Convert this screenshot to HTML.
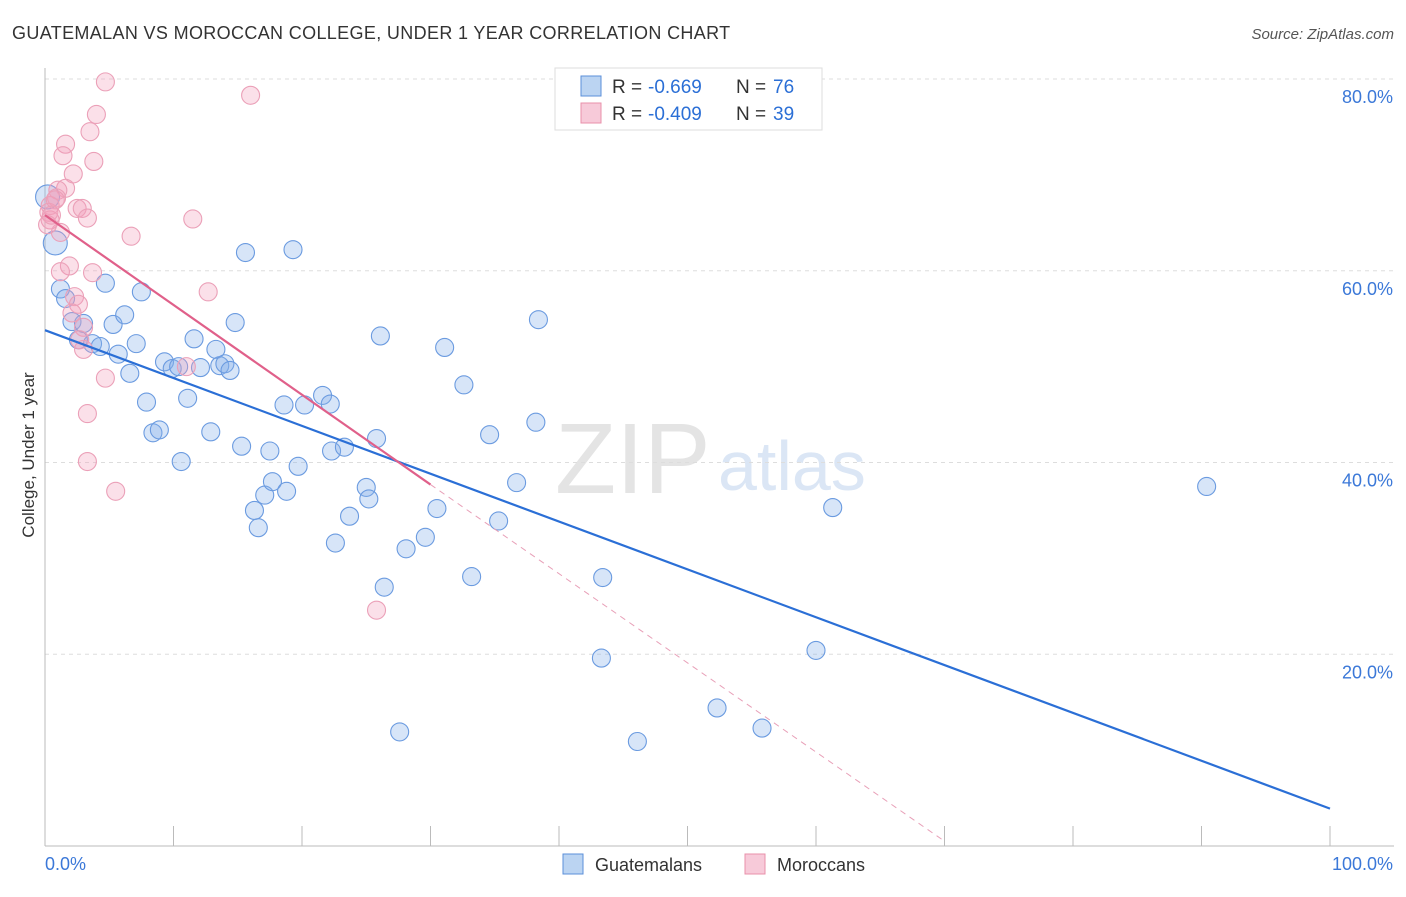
<!DOCTYPE html>
<html><head><meta charset="utf-8"><style>
body{margin:0;background:#fff;font-family:"Liberation Sans",sans-serif;}
svg text{font-family:"Liberation Sans",sans-serif;}
</style></head><body>
<svg id="c" width="1406" height="892">
<text x="12" y="39" font-size="18" fill="#333" letter-spacing="0.35">GUATEMALAN VS MOROCCAN COLLEGE, UNDER 1 YEAR CORRELATION CHART</text>
<text x="1394" y="39" font-size="15" fill="#555" text-anchor="end" font-style="italic">Source: ZipAtlas.com</text>
<text x="34" y="455" font-size="17" fill="#333" text-anchor="middle" transform="rotate(-90 34 455)">College, Under 1 year</text>
<text x="555" y="493" font-size="100" fill="#e4e4e4" font-family="Liberation Serif">ZIP</text>
<text x="718" y="490" font-size="70" fill="#dbe6f5">atlas</text>
<g id="grid"></g><g id="pts"></g><g id="lines"></g>
<g>
<rect x="555" y="68" width="267" height="62" fill="#fff" stroke="#ddd"/>
<rect x="581" y="76" width="20" height="20" fill="rgba(120,170,230,0.5)" stroke="#5b8fd9"/>
<text x="612" y="93" font-size="19" fill="#333">R =</text><text x="648" y="93" font-size="19" fill="#2b6fd6">-0.669</text>
<text x="736" y="93" font-size="19" fill="#333">N =</text><text x="773" y="93" font-size="19" fill="#2b6fd6">76</text>
<rect x="581" y="103" width="20" height="20" fill="rgba(240,150,180,0.5)" stroke="#e890aa"/>
<text x="612" y="120" font-size="19" fill="#333">R =</text><text x="648" y="120" font-size="19" fill="#2b6fd6">-0.409</text>
<text x="736" y="120" font-size="19" fill="#333">N =</text><text x="773" y="120" font-size="19" fill="#2b6fd6">39</text>
</g>
<g>
<rect x="563" y="854" width="20" height="20" fill="rgba(120,170,230,0.5)" stroke="#5b8fd9"/>
<text x="595" y="871" font-size="18" fill="#333">Guatemalans</text>
<rect x="745" y="854" width="20" height="20" fill="rgba(240,150,180,0.5)" stroke="#e890aa"/>
<text x="777" y="871" font-size="18" fill="#333">Moroccans</text>
</g>
</svg>
<script>
const yTicks=[20,40,60,80];
const xTickLabels=["0.0%","100.0%"];
const blueX=[0.2,0.8,1.2,1.6,2.1,3.0,2.6,3.7,4.3,4.7,5.3,5.7,6.2,6.6,7.1,7.5,7.9,8.4,8.9,9.3,9.9,10.4,10.6,11.1,11.6,12.1,12.9,13.3,13.6,14.0,14.4,14.8,15.3,15.6,16.3,16.6,17.1,17.5,17.7,18.6,18.8,19.3,19.7,20.2,21.6,22.2,22.3,22.6,23.3,23.7,25.0,25.2,25.8,26.1,26.4,27.6,28.1,29.6,30.5,31.1,32.6,33.2,34.6,35.3,36.7,38.2,38.4,43.3,43.4,46.1,52.3,55.8,60.0,61.3,90.4];
const blueY=[67.7,62.9,58.1,57.1,54.7,54.5,52.8,52.4,52.1,58.7,54.4,51.3,55.4,49.3,52.4,57.8,46.3,43.1,43.4,50.5,49.8,50.0,40.1,46.7,52.9,49.9,43.2,51.8,50.1,50.3,49.6,54.6,41.7,61.9,35.0,33.2,36.6,41.2,38.0,46.0,37.0,62.2,39.6,46.0,47.0,46.1,41.2,31.6,41.6,34.4,37.4,36.2,42.5,53.2,27.0,11.9,31.0,32.2,35.2,52.0,48.1,28.1,42.9,33.9,37.9,44.2,54.9,19.6,28.0,10.9,14.4,12.3,20.4,35.3,37.5];
const pinkX=[4.7,16.0,4.0,3.5,1.6,1.4,3.8,2.2,1.6,1.0,0.9,0.4,2.5,2.9,3.3,11.5,6.7,1.2,0.4,0.3,1.9,1.2,3.7,12.7,2.3,2.6,2.1,3.0,2.7,3.0,11.0,4.7,3.3,3.3,5.5,25.8,0.2,0.8,0.5];
const pinkY=[79.7,78.3,76.3,74.5,73.2,72.0,71.4,70.1,68.6,68.4,67.6,66.8,66.5,66.5,65.5,65.4,63.6,64.0,65.3,66.1,60.5,59.9,59.8,57.8,57.3,56.5,55.6,54.1,52.8,51.8,50.0,48.8,45.1,40.1,37.0,24.6,64.8,67.4,65.8];
const blueTrend=[[0,53.8],[100,3.9]];
const pinkTrend=[[0,65.8],[30,37.7]];
const pinkDash=[[30,37.7],[70,0.5]];
const X=v=>45+v*12.85, Y=v=>846-v*9.5875;
const NS="http://www.w3.org/2000/svg";
function mk(t,a,p){const e=document.createElementNS(NS,t);for(const k in a)e.setAttribute(k,a[k]);p.appendChild(e);return e;}
const g=document.getElementById('grid');
for(const t of yTicks){
 const l=mk('line',{x1:45,x2:1394,y1:Y(t),y2:Y(t),stroke:'#ddd','stroke-dasharray':'4,4'},g);
 
 
 const tx=mk('text',{x:1393,y:Y(t)+24,'font-size':18,fill:'#3b78d8','text-anchor':'end'},g);tx.textContent=t.toFixed(1)+'%';
 
 
}
mk('line',{x1:45,x2:45,y1:68,y2:846,stroke:'#bbb'},g);
mk('line',{x1:45,x2:1394,y1:846,y2:846,stroke:'#bbb'},g);
for(let i=1;i<=10;i++){mk('line',{x1:45+i*128.5,x2:45+i*128.5,y1:826,y2:846,stroke:'#bbb'},g);}
const t0=mk('text',{x:45,y:870,'font-size':18,fill:'#3b78d8'},g);t0.textContent=xTickLabels[0];


const t1=mk('text',{x:1393,y:870,'font-size':18,fill:'#3b78d8','text-anchor':'end'},g);t1.textContent=xTickLabels[1];


const p=document.getElementById('pts');
blueX.forEach((x,i)=>{const c=mk('circle',{cx:X(x),cy:Y(blueY[i]),r:i<2?12:9,fill:'rgba(130,175,232,0.32)',stroke:'#6b9be0','stroke-width':1.1},p);
 
 });
pinkX.forEach((x,i)=>{const c=mk('circle',{cx:X(x),cy:Y(pinkY[i]),r:9,fill:'rgba(242,160,188,0.32)',stroke:'#eba0b8','stroke-width':1.1},p);
 
 });
const L=document.getElementById('lines');
const b=mk('line',{x1:X(blueTrend[0][0]),y1:Y(blueTrend[0][1]),x2:X(blueTrend[1][0]),y2:Y(blueTrend[1][1]),stroke:'#2b6fd6','stroke-width':2.2},L);


const pk=mk('line',{x1:X(pinkTrend[0][0]),y1:Y(pinkTrend[0][1]),x2:X(pinkTrend[1][0]),y2:Y(pinkTrend[1][1]),stroke:'#e0608a','stroke-width':2.2},L);


const pd=mk('line',{x1:X(pinkDash[0][0]),y1:Y(pinkDash[0][1]),x2:X(pinkDash[1][0]),y2:Y(pinkDash[1][1]),stroke:'#e8a0b8','stroke-width':1,'stroke-dasharray':'6,5'},L);


</script>
</body></html>
